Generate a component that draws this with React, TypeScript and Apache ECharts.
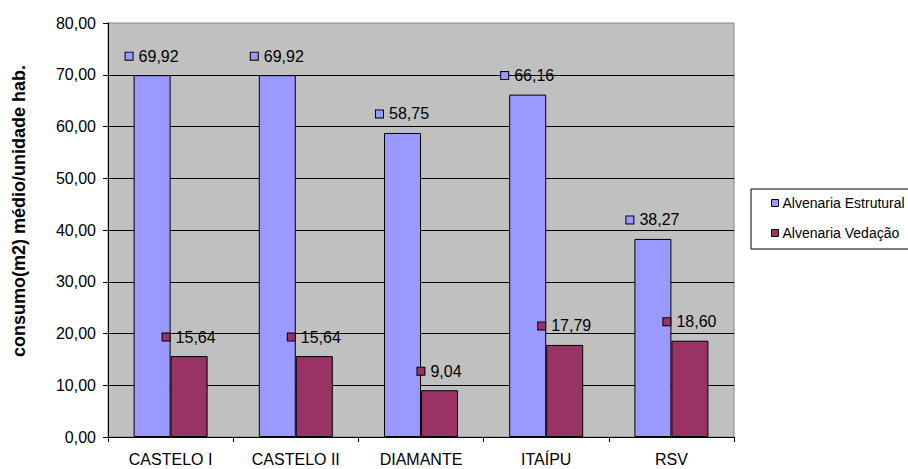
import React, { useEffect, useRef } from "react";
import * as echarts from "echarts";

// Consumo médio por unidade habitacional, por empreendimento
const categories = ["CASTELO I", "CASTELO II", "DIAMANTE", "ITAÍPU", "RSV"];
const estrutural = [69.92, 69.92, 58.75, 66.16, 38.27];
const vedacao = [15.64, 15.64, 9.04, 17.79, 18.6];
const seriesNames = ["Alvenaria Estrutural", "Alvenaria Vedação"];
const yTitle = "consumo(m2) médio/unidade hab.";

const FONT = "'Liberation Sans', Arial, sans-serif";
const BLUE = "#9999FF";
const WINE = "#993366";

const fmt = (v: number) => v.toFixed(2).replace(".", ",");

function barLabel(color: string) {
  return {
    show: true,
    position: "top" as const,
    distance: 11,
    formatter: (p: any) => `{m|}{v|${fmt(p.value)}}`,
    rich: {
      m: {
        width: 7,
        height: 7,
        backgroundColor: color,
        borderColor: "#000",
        borderWidth: 1,
      },
      v: {
        fontFamily: FONT,
        fontSize: 16,
        color: "#000",
        padding: [0, 0, 0, 6],
      },
    },
  };
}

export default function App() {
  const ref = useRef<HTMLDivElement>(null);

  useEffect(() => {
    if (!ref.current) return;
    const chart = echarts.init(ref.current, null, { renderer: "svg" });
    chart.setOption({
      animation: false,
      backgroundColor: "#fff",
      textStyle: { fontFamily: FONT },
      grid: {
        left: 108,
        top: 23,
        right: 174,
        bottom: 32,
        show: true,
        backgroundColor: "#C0C0C0",
        borderColor: "#808080",
        borderWidth: 1,
      },
      legend: {
        orient: "vertical",
        left: 751,
        top: 189,
        padding: [7, 12, 9, 20],
        itemGap: 16,
        itemWidth: 7,
        itemHeight: 7,
        icon: "rect",
        backgroundColor: "#fff",
        borderColor: "#000",
        borderWidth: 1,
        borderRadius: 0,
        textStyle: { fontFamily: FONT, fontSize: 14, color: "#000", padding: [0, 0, 0, -1] },
        data: seriesNames.map((n) => ({
          name: n,
          itemStyle: { borderColor: "#000", borderWidth: 1 },
        })),
      },
      xAxis: {
        type: "category",
        data: categories,
        axisLine: { lineStyle: { color: "#000", width: 1 } },
        axisTick: { show: true, length: 5, lineStyle: { color: "#000" } },
        axisLabel: { color: "#000", fontFamily: FONT, fontSize: 16, margin: 14 },
      },
      yAxis: {
        type: "value",
        min: 0,
        max: 80,
        interval: 10,
        name: yTitle,
        nameLocation: "middle",
        nameGap: 80,
        nameTextStyle: {
          fontFamily: FONT,
          fontSize: 18,
          fontWeight: "bold",
          color: "#000",
          padding: [0, 0, 0, 38],
        },
        axisLine: { show: true, lineStyle: { color: "#000", width: 1 } },
        axisTick: { show: true, length: 5, lineStyle: { color: "#000" } },
        axisLabel: { color: "#000", fontFamily: FONT, fontSize: 16, margin: 12, formatter: (v: number) => fmt(v) },
        splitLine: { show: true, showMinLine: false, showMaxLine: false, lineStyle: { color: "#000", width: 1 } },
      },
      series: [
        {
          name: seriesNames[0],
          type: "bar",
          data: estrutural,
          barWidth: 37,
          barGap: "0%",
          itemStyle: { color: BLUE, borderColor: "#000", borderWidth: 1 },
          label: barLabel(BLUE),
        },
        {
          name: seriesNames[1],
          type: "bar",
          data: vedacao,
          barWidth: 37,
          barGap: "0%",
          itemStyle: { color: WINE, borderColor: "#000", borderWidth: 1 },
          label: barLabel(WINE),
        },
      ],
    });
    return () => chart.dispose();
  }, []);

  return (
    <div
      ref={ref}
      style={{ position: "absolute", left: 0, top: 0, width: 908, height: 469 }}
    />
  );
}
